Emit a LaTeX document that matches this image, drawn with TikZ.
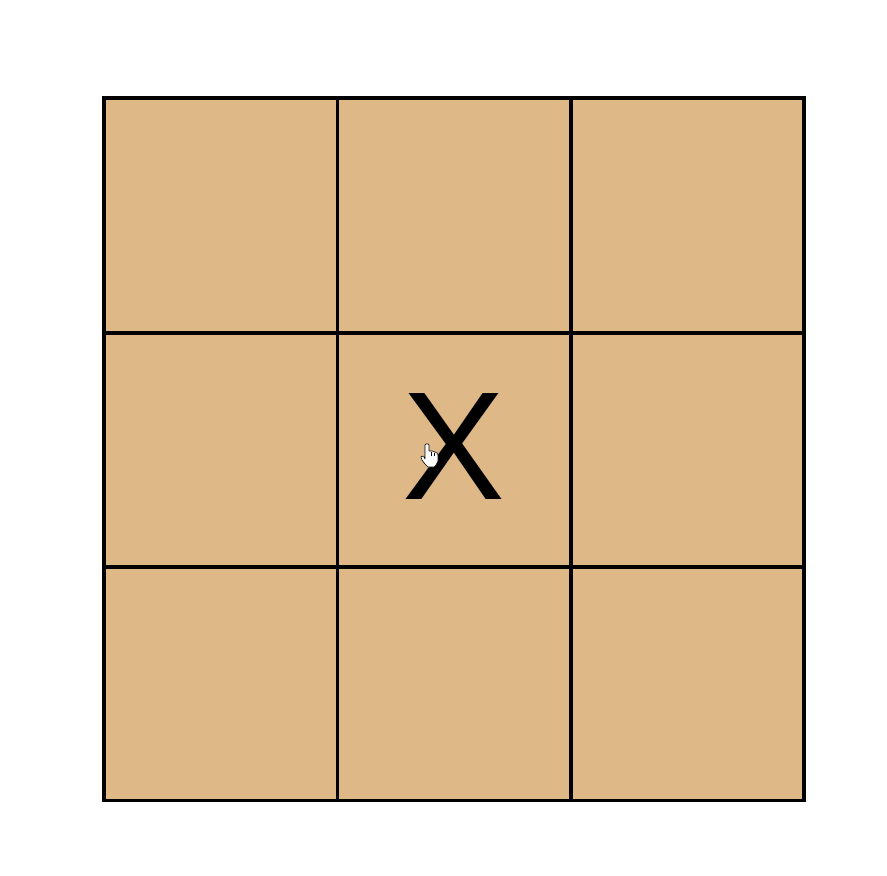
\documentclass[tikz,border=0pt]{standalone}
\usepackage{fontspec}
\setmainfont{Liberation Sans}
\definecolor{board}{HTML}{DEB887}
\tikzset{
  cellbox/.style={fill=board, draw=black, line width=3.2pt},
  gridline/.style={draw=black, line width=3.2pt},
  mark/.style={},
  xmark/.style={font=\fontsize{154}{154}\selectfont, text=black, inner sep=0pt, anchor=center},
  cursorhand/.style={fill=white, draw=black, line width=0.6pt, line join=round}
}
\begin{document}
\begin{tikzpicture}[x=1pt,y=-1pt]
\fill[white] (0,0) rectangle (887,876);
\useasboundingbox (0,0) rectangle (887,876);
\node[draw=none, fill=board, minimum width=700pt, minimum height=702pt, inner sep=0pt, anchor=north west] (board) at (104,98) {};
\draw[gridline] (337.5,98) -- (337.5,800.5);
\draw[gridline] (571,98) -- (571,800.5);
\draw[gridline] (104,333) -- (804,333);
\draw[gridline] (104,567) -- (804,567);
\draw[gridline, line cap=rect] (104,98) rectangle (804,800.5);
\node[xmark] (x) at (454,447) {X};
\draw[cursorhand] (425,445) -- (426,444) -- (428,444) -- (429,445) -- (429,451)
  -- (432,451) -- (435,452) -- (437,453) -- (438,455) -- (438,461) -- (436,465)
  -- (434,467) -- (428,467) -- (425,464) -- (422,460) -- (421,457) -- (422,456)
  -- (424,457) -- (425,459) -- cycle;
\draw[black, line width=0.4pt] (431.5,451.5) -- (431.5,456) (434.5,452.5) -- (434.5,456);
\end{tikzpicture}
\end{document}
